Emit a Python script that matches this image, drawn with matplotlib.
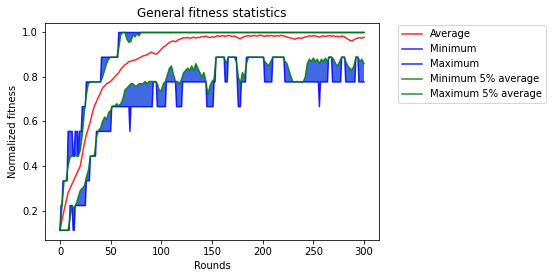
import numpy as np
import matplotlib
matplotlib.use("Agg")
import matplotlib.pyplot as plt

# ---- data (fitness levels are multiples of 1/9) ----
max_levels = [1, 2, 3, 5, 4, 5, 4, 5, 6, 7, 8, 9]
max_runs = [1, 2, 5, 5, 2, 3, 1, 3, 4, 15, 17, 243]

min_levels = [1, 2, 1, 2, 3, 4, 5, 6, 5, 6, 7, 6, 7, 6, 7, 6, 7, 8, 7, 8, 7, 6,
              7, 8, 7, 8, 7, 6, 7, 8, 7, 8, 7, 8, 7]
min_runs = [10, 3, 2, 11, 4, 6, 15, 18, 1, 22, 4, 9, 10, 6, 24, 7, 2, 9, 3, 9, 1, 3,
            5, 18, 8, 12, 34, 1, 8, 4, 9, 4, 10, 3, 6]

# sampled every 2 rounds (0, 2, ..., 300)
average = [0.111, 0.16, 0.20, 0.24, 0.28, 0.30, 0.32, 0.34, 0.36, 0.38,
           0.40, 0.45, 0.50, 0.54, 0.57, 0.60, 0.64, 0.67, 0.69, 0.71,
           0.73, 0.75, 0.76, 0.77, 0.775, 0.78, 0.79, 0.80, 0.81, 0.82,
           0.835, 0.845, 0.855, 0.86, 0.87, 0.87, 0.875, 0.876, 0.88, 0.885,
           0.89, 0.895, 0.897, 0.90, 0.906, 0.912, 0.908, 0.903, 0.905, 0.915,
           0.925, 0.935, 0.94, 0.948, 0.955, 0.96, 0.962, 0.958, 0.965, 0.97,
           0.972, 0.977, 0.975, 0.978, 0.974, 0.976, 0.979, 0.975, 0.978, 0.977,
           0.982, 0.98, 0.984, 0.979, 0.977, 0.981, 0.979, 0.983, 0.985, 0.982,
           0.986, 0.984, 0.983, 0.987, 0.985, 0.982, 0.984, 0.98, 0.975, 0.972,
           0.978, 0.982, 0.984, 0.986, 0.983, 0.985, 0.987, 0.984, 0.986, 0.988,
           0.985, 0.982, 0.986, 0.984, 0.987, 0.985, 0.983, 0.986, 0.984, 0.987,
           0.985, 0.983, 0.98, 0.977, 0.975, 0.972, 0.97, 0.974, 0.976, 0.973,
           0.977, 0.98, 0.982, 0.985, 0.983, 0.986, 0.984, 0.982, 0.979, 0.983,
           0.985, 0.982, 0.984, 0.986, 0.983, 0.985, 0.981, 0.983, 0.98, 0.984,
           0.982, 0.976, 0.97, 0.965, 0.962, 0.967, 0.972, 0.975, 0.977, 0.974,
           0.979]

min5_avg = [0.111, 0.111, 0.111, 0.111, 0.111, 0.17, 0.22, 0.21, 0.23, 0.26,
            0.29, 0.30, 0.31, 0.35, 0.38, 0.445, 0.445, 0.45, 0.53, 0.56,
            0.57, 0.60, 0.62, 0.61, 0.64, 0.65, 0.67, 0.67, 0.68, 0.67,
            0.68, 0.70, 0.74, 0.75, 0.76, 0.77, 0.77, 0.76, 0.76, 0.77,
            0.77, 0.77, 0.78, 0.77, 0.78, 0.78, 0.78, 0.78, 0.77, 0.74,
            0.74, 0.77, 0.78, 0.81, 0.84, 0.85, 0.81, 0.78, 0.78, 0.77,
            0.79, 0.82, 0.83, 0.84, 0.83, 0.85, 0.83, 0.86, 0.84, 0.82,
            0.80, 0.82, 0.78, 0.72, 0.76, 0.78, 0.79, 0.889, 0.889, 0.889,
            0.889, 0.889, 0.86, 0.889, 0.889, 0.889, 0.889, 0.87, 0.80, 0.77,
            0.82, 0.80, 0.86, 0.889, 0.889, 0.889, 0.889, 0.889, 0.889, 0.889,
            0.889, 0.87, 0.86, 0.85, 0.87, 0.889, 0.889, 0.889, 0.889, 0.889,
            0.889, 0.87, 0.86, 0.83, 0.80, 0.778, 0.778, 0.78, 0.778, 0.778,
            0.778, 0.80, 0.86, 0.88, 0.87, 0.885, 0.87, 0.88, 0.86, 0.88,
            0.87, 0.885, 0.87, 0.889, 0.889, 0.88, 0.86, 0.85, 0.87, 0.889,
            0.889, 0.87, 0.85, 0.84, 0.83, 0.85, 0.889, 0.889, 0.87, 0.88,
            0.86]

max5_avg = [0.111, 0.222, 0.333, 0.333, 0.40, 0.44, 0.445, 0.444, 0.445, 0.444,
            0.47, 0.54, 0.64, 0.72, 0.77, 0.778, 0.778, 0.778, 0.778, 0.778,
            0.778, 0.80, 0.83, 0.86, 0.88, 0.889, 0.889, 0.889, 0.889, 0.93,
            0.99, 1.0, 1.0, 0.97, 0.955, 0.96, 0.99, 0.98, 0.995, 0.985] + [1.0] * 111

# ---- derived series ----
rounds = np.arange(len(np.repeat(max_levels, max_runs)))
maximum = np.repeat(max_levels, max_runs) / 9.0
minimum = np.repeat(min_levels, min_runs) / 9.0
rounds_s = rounds[::2]
average = np.array(average)
min5_avg = np.array(min5_avg)
max5_avg = np.array(max5_avg)

fig = plt.figure(figsize=(552 / 72, 278 / 72), dpi=72)
ax = fig.add_axes([44.8 / 552, (278 - 240.2) / 278, 334.4 / 552, 217.6 / 278])

fill_color = "royalblue"
ax.fill(np.concatenate([rounds, rounds_s[::-1]]),
        np.concatenate([minimum, min5_avg[::-1]]),
        color=fill_color, lw=0)
ax.fill(np.concatenate([rounds, rounds_s[::-1]]),
        np.concatenate([maximum, max5_avg[::-1]]),
        color=fill_color, lw=0)

a = 0.85
ax.plot(rounds_s, average, color="red", alpha=a, label="Average")
ax.plot(rounds, minimum, color="blue", alpha=a, label="Minimum")
ax.plot(rounds, maximum, color="blue", alpha=a, label="Maximum")
ax.plot(rounds_s, min5_avg, color="green", alpha=a, label="Minimum 5% average")
ax.plot(rounds_s, max5_avg, color="green", alpha=a, label="Maximum 5% average")

ax.set_title("General fitness statistics", fontsize=12)
ax.set_xlabel("Rounds", fontsize=10)
ax.set_ylabel("Normalized fitness", fontsize=10)
ax.tick_params(labelsize=10)
ax.legend(loc="upper left", bbox_to_anchor=(1.04, 1.01), fontsize=10)

fig.savefig("out.png", dpi=72)
